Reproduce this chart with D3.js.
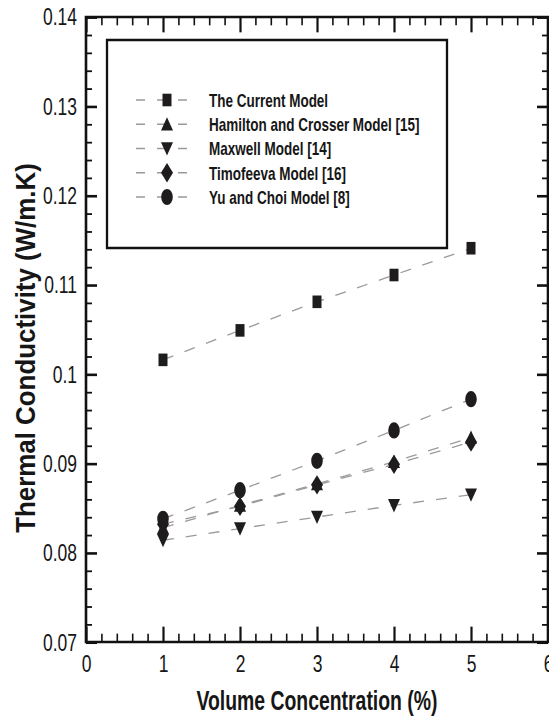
<!DOCTYPE html>
<html>
<head>
<meta charset="utf-8">
<script src="https://cdn.jsdelivr.net/npm/d3@7"></script>
<style>
  body { margin: 0; background: #fff; }
  svg { display: block; }
  text { font-family: "Liberation Sans", Arial, sans-serif; fill: #161616; }
</style>
</head>
<body>
<div id="scene"></div>
<script>
// values
var concentration = [1, 2, 3, 4, 5];
var currentModel = [0.1016, 0.1049, 0.1081, 0.1111, 0.1141];
var hamiltonCrosser = [0.0828, 0.0853, 0.0877, 0.0902, 0.0929];
var maxwell = [0.0814, 0.0827, 0.0840, 0.0853, 0.0865];
var timofeeva = [0.0832, 0.0852, 0.0876, 0.0899, 0.0924];
var yuChoi = [0.0838, 0.0870, 0.0903, 0.0937, 0.0972];

var seriesNames = ["The Current Model", "Hamilton and Crosser Model [15]", "Maxwell Model [14]",
  "Timofeeva Model [16]", "Yu and Choi Model [8]"];
var seriesMarkers = ["square", "triangleUp", "triangleDown", "diamond", "circle"];

var xTicks = [0, 1, 2, 3, 4, 5, 6];
var xTickLabels = ["0", "1", "2", "3", "4", "5", "6"];
var yTicks = [0.07, 0.08, 0.09, 0.1, 0.11, 0.12, 0.13, 0.14];
var yTickLabels = ["0.07", "0.08", "0.09", "0.1", "0.11", "0.12", "0.13", "0.14"];

var xTitle = "Volume Concentration (%)";
var yTitle = "Thermal Conductivity (W/m.K)";

// the figure is stretched vertically, so draw in a squashed space and let the viewBox stretch it
var ctx = {
  w: 549,
  h: 717,
  stretch: 1.4,
  left: 86,
  right: 548,
  top: 12.1,
  bottom: 458.6
};
ctx.innerH = ctx.h / ctx.stretch;

var markerPath = function (kind) {
  var p = d3.path();
  if (kind === "square") {
    p.rect(-4.5, -4.5, 9, 9);
  } else if (kind === "circle") {
    p.arc(0, 0, 5.8, 0, 2 * Math.PI);
  } else if (kind === "diamond") {
    p.moveTo(0, -6.9); p.lineTo(6, 0); p.lineTo(0, 6.9); p.lineTo(-6, 0); p.closePath();
  } else if (kind === "triangleUp") {
    p.moveTo(0, -5); p.lineTo(6, 4.5); p.lineTo(-6, 4.5); p.closePath();
  } else if (kind === "triangleDown") {
    p.moveTo(0, 5); p.lineTo(6, -4.5); p.lineTo(-6, -4.5); p.closePath();
  }
  return p.toString();
};

var svg = d3.select("#scene").append("svg")
  .attr("width", ctx.w)
  .attr("height", ctx.h)
  .attr("viewBox", "0 0 " + ctx.w + " " + ctx.innerH)
  .attr("preserveAspectRatio", "none");

var x = d3.scaleLinear().domain([0, 6]).range([ctx.left, ctx.right]);
var y = d3.scaleLinear().domain([0.07, 0.14]).range([ctx.bottom, ctx.top]);

var xMinor = d3.range(0, 6.001, 0.2).filter(function (d) { return Math.abs(d - Math.round(d)) > 1e-6; });
var yMinor = d3.range(0.07, 0.14001, 0.002).filter(function (d) { return Math.abs(d * 100 - Math.round(d * 100)) > 1e-6; });

var styleAxis = function (g) {
  g.select(".domain").remove();
  g.selectAll(".tick line")
    .attr("stroke", "#111")
    .attr("vector-effect", "non-scaling-stroke");
};

// major ticks, pointing inward on all four sides
svg.append("g")
  .attr("transform", "translate(0," + ctx.bottom + ")")
  .call(d3.axisBottom(x).tickValues(xTicks).tickSize(-11).tickPadding(9)
    .tickFormat(function (d, i) { return xTickLabels[i]; }))
  .call(styleAxis)
  .call(function (g) {
    g.selectAll(".tick line").attr("stroke-width", 2.2);
    g.selectAll("text").attr("font-size", 17.5).attr("font-family", null).attr("fill", "#161616");
  });

svg.append("g")
  .attr("transform", "translate(0," + ctx.bottom + ")")
  .call(d3.axisBottom(x).tickValues(xMinor).tickSize(-6).tickFormat(""))
  .call(styleAxis)
  .call(function (g) { g.selectAll(".tick line").attr("stroke-width", 1.6); });

svg.append("g")
  .attr("transform", "translate(0," + ctx.top + ")")
  .call(d3.axisTop(x).tickValues(xTicks).tickSize(-11).tickFormat(""))
  .call(styleAxis)
  .call(function (g) { g.selectAll(".tick line").attr("stroke-width", 2.2); });

svg.append("g")
  .attr("transform", "translate(0," + ctx.top + ")")
  .call(d3.axisTop(x).tickValues(xMinor).tickSize(-6).tickFormat(""))
  .call(styleAxis)
  .call(function (g) { g.selectAll(".tick line").attr("stroke-width", 1.6); });

svg.append("g")
  .attr("transform", "translate(" + ctx.left + ",0)")
  .call(d3.axisLeft(y).tickValues(yTicks).tickSize(-11).tickPadding(9)
    .tickFormat(function (d, i) { return yTickLabels[i]; }))
  .call(styleAxis)
  .call(function (g) {
    g.selectAll(".tick line").attr("stroke-width", 2.6);
    g.selectAll("text").attr("font-size", 17.5).attr("font-family", null).attr("fill", "#161616");
  });

svg.append("g")
  .attr("transform", "translate(" + ctx.left + ",0)")
  .call(d3.axisLeft(y).tickValues(yMinor).tickSize(-6).tickFormat(""))
  .call(styleAxis)
  .call(function (g) { g.selectAll(".tick line").attr("stroke-width", 1.8); });

svg.append("g")
  .attr("transform", "translate(" + ctx.right + ",0)")
  .call(d3.axisRight(y).tickValues(yTicks).tickSize(-11).tickFormat(""))
  .call(styleAxis)
  .call(function (g) { g.selectAll(".tick line").attr("stroke-width", 2.6); });

svg.append("g")
  .attr("transform", "translate(" + ctx.right + ",0)")
  .call(d3.axisRight(y).tickValues(yMinor).tickSize(-6).tickFormat(""))
  .call(styleAxis)
  .call(function (g) { g.selectAll(".tick line").attr("stroke-width", 1.8); });

// frame
svg.append("rect")
  .attr("x", ctx.left)
  .attr("y", ctx.top)
  .attr("width", ctx.right - ctx.left)
  .attr("height", ctx.bottom - ctx.top)
  .attr("fill", "none")
  .attr("stroke", "#111")
  .attr("stroke-width", 2.6)
  .attr("vector-effect", "non-scaling-stroke");

// axis titles
svg.append("text")
  .attr("x", (ctx.left + ctx.right) / 2)
  .attr("y", 507)
  .attr("text-anchor", "middle")
  .attr("font-weight", "bold")
  .attr("font-size", 19.4)
  .text(xTitle);

svg.append("text")
  .attr("transform", "translate(35," + (348 / ctx.stretch) + ") rotate(-90)")
  .attr("text-anchor", "middle")
  .attr("font-weight", "bold")
  .attr("font-size", 28)
  .attr("textLength", 264)
  .attr("lengthAdjust", "spacingAndGlyphs")
  .text(yTitle);

// series
var allSeries = [currentModel, hamiltonCrosser, maxwell, timofeeva, yuChoi];

var line = d3.line()
  .x(function (d, i) { return x(concentration[i]); })
  .y(function (d) { return y(d); });

allSeries.forEach(function (values) {
  svg.append("path")
    .datum(values)
    .attr("d", line)
    .attr("fill", "none")
    .attr("stroke", "#9a9a9a")
    .attr("stroke-width", 1.3)
    .attr("stroke-dasharray", "11,12")
    .attr("vector-effect", "non-scaling-stroke");
});

allSeries.forEach(function (values, k) {
  svg.append("g").selectAll("path")
    .data(values)
    .enter()
    .append("path")
    .attr("transform", function (d, i) { return "translate(" + x(concentration[i]) + "," + y(d) + ")"; })
    .attr("d", markerPath(seriesMarkers[k]))
    .attr("fill", "#1f1c1d");
});

// legend
var legend = svg.append("g");

legend.append("rect")
  .attr("x", 107)
  .attr("y", 40 / ctx.stretch)
  .attr("width", 447 - 107)
  .attr("height", (248 - 40) / ctx.stretch)
  .attr("fill", "#fff")
  .attr("stroke", "#111")
  .attr("stroke-width", 2.3)
  .attr("vector-effect", "non-scaling-stroke");

var rowY = d3.scalePoint().domain(seriesNames).range([100 / ctx.stretch, 197 / ctx.stretch]);

seriesNames.forEach(function (name, k) {
  var ry = rowY(name);
  legend.append("line")
    .attr("x1", 136).attr("x2", 191)
    .attr("y1", ry).attr("y2", ry)
    .attr("stroke", "#9a9a9a")
    .attr("stroke-width", 1.3)
    .attr("stroke-dasharray", "9,12")
    .attr("vector-effect", "non-scaling-stroke");
  legend.append("path")
    .attr("transform", "translate(167," + ry + ")")
    .attr("d", markerPath(seriesMarkers[k]))
    .attr("fill", "#1f1c1d");
  legend.append("text")
    .attr("x", 209)
    .attr("y", ry)
    .attr("dy", "0.36em")
    .attr("font-weight", "bold")
    .attr("font-size", 13.5)
    .text(name);
});
</script>
</body>
</html>
